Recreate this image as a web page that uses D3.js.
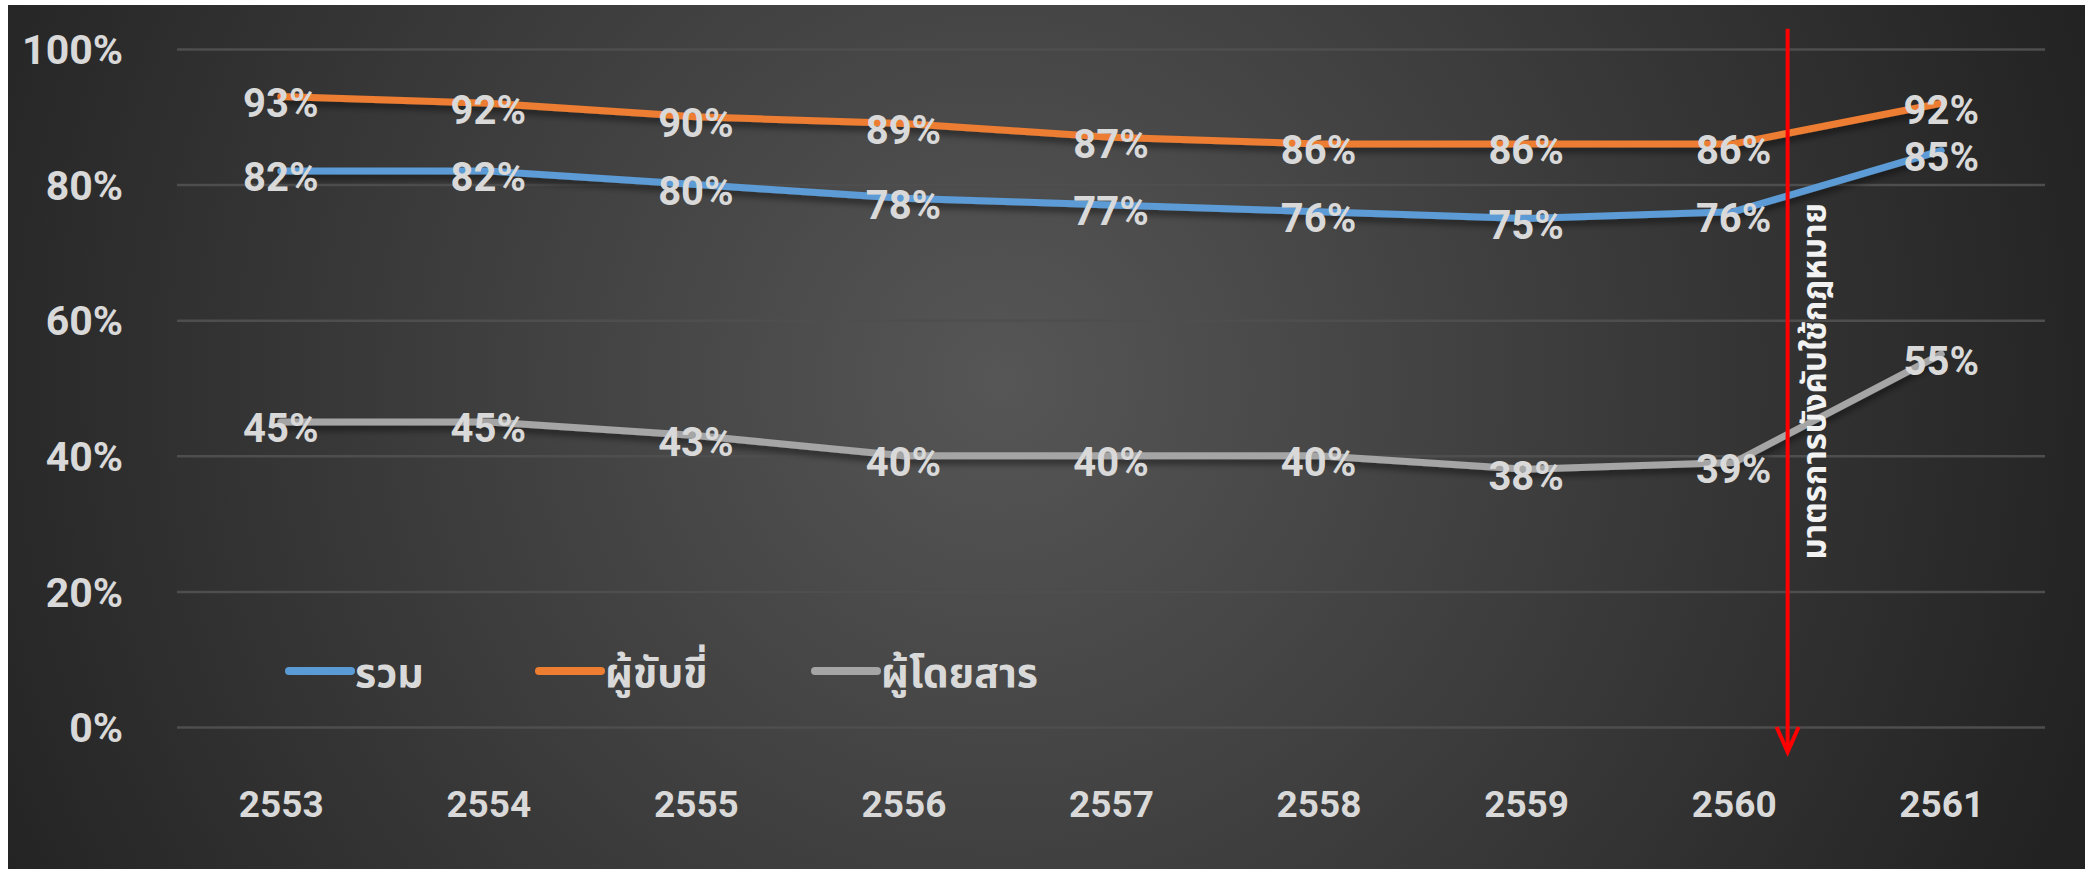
<!DOCTYPE html>
<html>
  <head>
    <meta charset="utf-8">
    <title>Line chart</title>
    <style>
      body { margin: 0; background: #ffffff; }
      text { font-family: Roboto, "Noto Sans Thai", "Leelawadee UI", "DejaVu Sans", sans-serif; font-weight: bold; fill: #d9d9d9; }
    </style>
  </head>

  <body>
    <div id="chart"></div>

    <script src="https://d3js.org/d3.v7.min.js" type="text/javascript"></script>

<script>

  var years = ["2553", "2554", "2555", "2556", "2557", "2558", "2559", "2560", "2561"];

  var total = [0.82, 0.82, 0.80, 0.78, 0.77, 0.76, 0.75, 0.76, 0.85];
  var riders = [0.93, 0.92, 0.90, 0.89, 0.87, 0.86, 0.86, 0.86, 0.92];
  var passengers = [0.45, 0.45, 0.43, 0.40, 0.40, 0.40, 0.38, 0.39, 0.55];

  var seriesNames = ["รวม", "ผู้ขับขี่", "ผู้โดยสาร"];
  var yTicks = [0, 0.2, 0.4, 0.6, 0.8, 1];
  var noteText = "มาตรการบังคับใช้กฎหมาย";

  var series = [
    {name: seriesNames[0], values: total, color: "#5b9bd5"},
    {name: seriesNames[1], values: riders, color: "#ed7d31"},
    {name: seriesNames[2], values: passengers, color: "#a5a5a5"}
  ];

  var W = 2085, H = 869;

  var svg = d3.select('#chart')
    .append('svg')
    .attr("width", W)
    .attr("height", H);

  var defs = svg.append("defs");

  var bg = defs.append("radialGradient")
    .attr("id", "bg")
    .attr("gradientUnits", "userSpaceOnUse")
    .attr("cx", 1000).attr("cy", 380).attr("r", 1150);
  bg.append("stop").attr("offset", "0%").attr("stop-color", "#565656");
  bg.append("stop").attr("offset", "100%").attr("stop-color", "#222222");

  var shadow = defs.append("filter")
    .attr("id", "shadow")
    .attr("x", "-5%").attr("y", "-50%")
    .attr("width", "110%").attr("height", "200%");
  shadow.append("feDropShadow")
    .attr("dx", 0).attr("dy", 5)
    .attr("stdDeviation", 3)
    .attr("flood-color", "#000")
    .attr("flood-opacity", 0.45);

  svg.append("rect")
    .attr("x", 8).attr("y", 5)
    .attr("width", W - 8).attr("height", H - 5)
    .attr("fill", "url(#bg)");

  var x = d3.scalePoint()
    .domain(years)
    .range([177, 2045])
    .padding(0.5);

  var y = d3.scaleLinear()
    .domain([0, 1])
    .range([727, 49]);

  // gridlines + y labels
  var yAxis = svg.append("g")
    .attr("transform", "translate(177,0)")
    .call(d3.axisLeft(y)
      .tickValues(yTicks)
      .tickSize(-(2045 - 177))
      .tickPadding(54)
      .tickFormat(d3.format(".0%")));
  yAxis.select(".domain").remove();
  yAxis.selectAll(".tick line")
    .attr("stroke", "#4e4e4e")
    .attr("stroke-width", 2.5);
  yAxis.selectAll(".tick text")
    .attr("fill", "#d9d9d9")
    .style("font-size", "41px")
    .attr("dy", "0.36em");

  // x labels
  var xAxis = svg.append("g")
    .attr("transform", "translate(0,790)")
    .call(d3.axisBottom(x).tickSize(0).tickPadding(0));
  xAxis.select(".domain").remove();
  xAxis.selectAll(".tick text")
    .attr("fill", "#d9d9d9")
    .style("font-size", "37px")
    .attr("y", 0)
    .attr("dy", "0.72em");

  var line = d3.line()
    .x(function(d, i){ return x(years[i]); })
    .y(function(d){ return y(d); });

  svg.selectAll('.series')
    .data(series)
    .enter()
    .append('path')
    .attr('class', 'series')
    .attr('d', function(d){ return line(d.values); })
    .attr('fill', 'none')
    .attr('stroke', function(d){ return d.color; })
    .attr('stroke-width', 7)
    .attr('stroke-linejoin', 'round')
    .attr('stroke-linecap', 'round')
    .attr('filter', 'url(#shadow)');

  // data labels
  series.forEach(function(s) {
    svg.append("g").selectAll("text")
      .data(s.values)
      .enter()
      .append("text")
      .attr("x", function(d, i){ return x(years[i]); })
      .attr("y", function(d){ return y(d) + 6; })
      .attr("dy", "0.36em")
      .attr("text-anchor", "middle")
      .style("font-size", "40px")
      .text(function(d){ return d3.format(".0%")(d); });
  });

  // legend
  var legendX = [289, 539, 815];
  var legend = svg.append("g").selectAll("g")
    .data(series)
    .enter()
    .append("g")
    .attr("transform", function(d, i){ return "translate(" + legendX[i] + ",671)"; });
  legend.append("line")
    .attr("x1", 0).attr("x2", 62)
    .attr("stroke", function(d){ return d.color; })
    .attr("stroke-width", 8)
    .attr("stroke-linecap", "round");
  legend.append("text")
    .attr("x", 66)
    .attr("y", 16)
    .style("font-size", "41px")
    .text(function(d){ return d.name; });

  // enforcement marker
  var step = x.step();
  var ax = x("2560") + step * 0.26;
  var marker = svg.append("g")
    .attr("stroke", "#ff0000")
    .attr("stroke-width", 4)
    .attr("fill", "none");
  marker.append("line")
    .attr("x1", ax).attr("x2", ax)
    .attr("y1", y(1.03)).attr("y2", y(-0.037));
  marker.append("path")
    .attr("d", "M" + (ax - 11) + "," + y(0) + "L" + ax + "," + y(-0.037) + "L" + (ax + 11) + "," + y(0))
    .attr("stroke-linejoin", "miter");

  svg.append("text")
    .attr("transform", "translate(" + (ax + 38) + "," + y(0.247) + ") rotate(-90)")
    .style("fill", "#f2f2f2")
    .style("font-size", "33px")
    .text(noteText);

</script>
  </body>
</html>
